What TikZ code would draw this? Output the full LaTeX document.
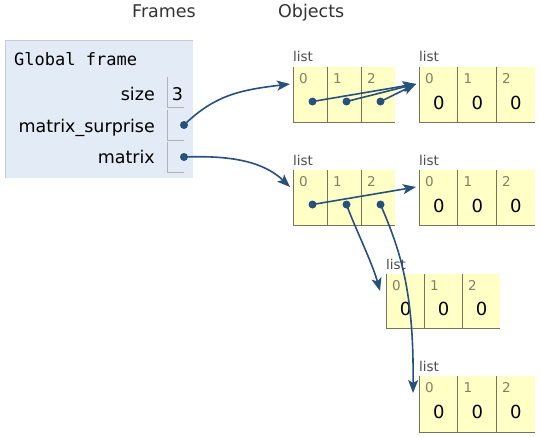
\documentclass[tikz,border=0pt]{standalone}
\usepackage{fontspec}
\setmainfont{DejaVu Sans}
\setmonofont{DejaVu Sans Mono}
\usetikzlibrary{arrows.meta,positioning,calc}
\definecolor{framebg}{RGB}{226,235,246}
\definecolor{frameedge}{RGB}{200,205,210}
\definecolor{cellbg}{RGB}{255,255,198}
\definecolor{celledge}{RGB}{115,115,95}
\definecolor{ptrblue}{RGB}{40,80,125}
\definecolor{idxgray}{RGB}{128,128,100}
% list object: name, top-left corner, cell width, cell height
\newcommand{\pylist}[4]{%
  \node[listlbl] (#1-lbl) at ($(#2)+(0,-5)$) {list};
  \foreach \i in {0,1,2} {
    \node[cell, minimum width=#3, minimum height=#4] (#1-\i) at ($(#2)+(\i*#3+#3/2,#4/2)$) {};
    \draw[celline] (#1-\i.north west) |- (#1-\i.south east);
    \node[idx] (#1-i\i) at ($(#1-\i.north west)+(10.5,11.5)$) {\i};
  }
  \coordinate (#1-in) at ($(#1-0.north west)+(-3,17)$);
}

\begin{document}
\begin{tikzpicture}[x=1pt, y=-1pt,
    hdr/.style={font=\fontsize{17.5}{20}\selectfont, text=black!80, inner sep=0pt, anchor=base west},
    varname/.style={font=\fontsize{17.5}{20}\selectfont, inner sep=0pt, anchor=base east},
    varcell/.style={inner sep=0pt, minimum width=16, minimum height=30},
    varline/.style={draw=black!30, line width=0.8pt},
    listlbl/.style={font=\fontsize{13.5}{15}\selectfont, text=black!70, inner sep=0pt, anchor=base west},
    cell/.style={fill=cellbg, inner sep=0pt, outer sep=0pt},
    celline/.style={draw=celledge, line width=0.9pt},
    idx/.style={font=\fontsize{13.5}{15}\selectfont, text=idxgray, inner sep=0pt},
    val/.style={font=\fontsize{18}{20}\selectfont, inner sep=0pt},
    dot/.style={circle, fill=ptrblue, inner sep=0pt, minimum size=8},
    ptr/.style={-{Stealth[length=13pt, width=10pt, inset=3pt]}, draw=ptrblue, line width=1.6pt}
  ]
  \useasboundingbox (0,0) rectangle (540,436);

  \node[hdr] (hdr-frames) at (132,18) {Frames};
  \node[hdr] (hdr-objects) at (278,18) {Objects};

  % global frame
  \node[fill=framebg, inner sep=0pt, minimum width=188, minimum height=138, anchor=north west] (gframe) at (5,40) {};
  \draw[draw=frameedge, line width=0.8pt] (gframe.south west) |- (gframe.north east);
  \node[font=\fontsize{17}{20}\ttfamily, inner sep=0pt, anchor=base west] (gtitle) at (14,65) {Global frame};

  \node[varname] (n-size) at (155,100) {size};
  \node[varname] (n-ms) at (155,132) {matrix\_surprise};
  \node[varname] (n-mat) at (155,163) {matrix};
  \node[varcell] (v-size) at (176,92.5) {};
  \node[varcell] (v-ms) at (176,125) {};
  \node[varcell] (v-mat) at (176,157.5) {};
  \foreach \v in {size,ms,mat}
    \draw[varline] (v-\v.north west) |- (v-\v.south east);
  \node[val, font=\fontsize{17.5}{20}\selectfont, anchor=base] (v-size-3) at (177.5,100) {3};
  \node[dot] (ms-ptr) at (184,125) {};
  \node[dot] (mat-ptr) at (184,157) {};

  % list objects
  \pylist{l1}{293,67}{34}{55}
  \pylist{l2}{419,67}{38.5}{55}
  \pylist{l3}{293,170}{34}{55}
  \pylist{l4}{419,170}{38.5}{55}
  \pylist{l5}{386,274}{38}{54}
  \pylist{l6}{419,376}{38.5}{56}

  \foreach \l in {l2,l4,l5,l6}
    \foreach \i in {0,1,2}
      \node[val] (\l-v\i) at ($(\l-\i.center)+(0.5,8)$) {0};
  \foreach \l in {l1,l3}
    \foreach \i in {0,1,2}
      \node[dot] (\l-d\i) at ($(\l-\i.center)+(2.5,7)$) {};

  % pointers
  \draw[ptr] (ms-ptr.center) .. controls (215,95) and (240,90) .. (l1-in);
  \draw[ptr] (mat-ptr.center) .. controls (235,155) and (265,163) .. (l3-in);
  \foreach \i in {0,1,2}
    \draw[ptr] (l1-d\i.center) -- (l2-in);
  \draw[ptr] (l3-d0.center) -- (l4-in);
  \draw[ptr] (l3-d1.center) .. controls (355,228) and (372,262) .. ($(l5-in)+(-3,0)$);
  \draw[ptr] (l3-d2.center) .. controls (400,250) and (414,290) .. ($(l6-in)+(-3,0)$);
\end{tikzpicture}
\end{document}
